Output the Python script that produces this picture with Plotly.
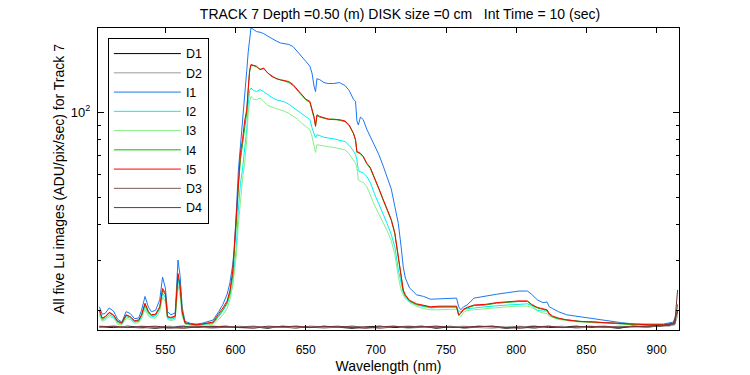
import plotly.graph_objects as go

# Wavelength grid (nm) for the five image series
wl = [503, 505, 507, 510, 513, 516, 519, 522, 525, 528, 531, 533, 535.5, 538, 540, 543, 546, 548, 550, 551.5,
      554, 557, 559, 560.5, 562, 564, 568, 572, 576, 580, 584, 588, 591, 594, 596, 598, 599, 600.5, 602, 603.5,
      605, 606.5, 608, 609, 610, 611, 613, 615, 617.5, 620, 623, 626, 629, 632, 635, 638, 641, 644, 647, 650,
      653, 654.5, 656, 657, 658, 660, 663, 666, 670, 674, 678, 681, 684, 685.5, 686.5, 687.5, 689, 691, 693.5, 696,
      699, 702, 705, 708, 711, 713.5, 716, 718, 719.5, 721, 724, 729, 734, 739, 745, 752, 757.5, 759, 760.5, 762.5,
      765, 770, 778, 786, 794, 802, 808, 811, 815, 819, 822, 823.5, 826, 830, 836, 845, 855, 865, 875, 885,
      895, 905, 912, 915]

I1 = [20.6, 19.4, 19.5, 20.4, 19.9, 18.6, 18.2, 19.8, 19.5, 18.7, 18.8, 20.0, 22.4, 20.5, 19.8, 20.0, 21.8, 26.2, 24.0, 19.8,
      19.3, 19.6, 30.1, 26.5, 20.5, 18.3, 18.0, 17.9, 18.0, 18.2, 18.5, 19.8, 21.0, 22.8, 25.0, 29.0, 32.5, 44, 62, 76,
      92, 110, 140, 162, 185, 198, 195, 192, 191, 189, 185, 181, 178, 175, 174, 173, 170, 163, 156, 151,
      145, 137, 123, 118, 131, 130, 127, 126, 126, 127, 124, 119, 111, 109, 93, 90, 96, 94, 87, 82,
      76, 71, 65, 58.5, 53.5, 46.5, 40.5, 33.5, 28.5, 26, 24, 22.7, 22.4, 21.9, 22.0, 22.1, 22.1, 20.6, 20.1, 20.6,
      20.9, 22.1, 22.5, 22.8, 23.1, 23.4, 23.4, 22.8, 21.8, 21.3, 21.4, 20.6, 20.3, 19.8, 19.3, 19.0, 18.7, 18.4, 18.1, 17.9,
      17.9, 17.9, 18.2, 20.0]

I2 = [19.5, 18.5, 18.7, 19.3, 19.0, 18.1, 17.9, 19.0, 18.8, 18.2, 18.3, 19.0, 20.7, 19.4, 19.0, 19.1, 20.2, 23.0, 22.2, 18.8,
      18.6, 18.8, 25.8, 23.5, 19.4, 18.0, 17.8, 17.7, 17.8, 17.9, 18.0, 19.0, 19.9, 21.0, 22.5, 24.5, 28, 33, 45, 56,
      63, 73, 87, 106, 119, 121.5, 119, 118, 120, 118, 115, 112.5, 110.5, 109.5, 108.5, 106.5, 104, 101.5, 99, 96.5,
      94, 88, 84, 81, 83.2, 82.5, 81.5, 81, 80.5, 79.5, 78.7, 76.2, 73, 70.7, 67.9, 62, 61.5, 61, 59.3, 56.5,
      51.5, 47.5, 44.3, 40.5, 37, 33.5, 27.8, 24.6, 23.1, 22.3, 21.5, 20.9, 20.6, 20.4, 20.5, 20.5, 20.5, 19.9, 19.8, 20.2,
      20.3, 20.4, 20.6, 20.8, 20.9, 21.0, 21.1, 20.8, 20.0, 19.9, 19.9, 19.3, 18.9, 18.7, 18.5, 18.3, 18.2, 18.1, 17.95, 17.8,
      17.8, 17.8, 17.9, 19.5]

I3 = [19.2, 18.3, 18.5, 19.0, 18.8, 17.9, 17.8, 18.7, 18.6, 18.0, 18.1, 18.7, 20.2, 19.1, 18.8, 18.8, 19.8, 22.2, 21.5, 18.6,
      18.4, 18.6, 24.5, 22.5, 19.1, 17.9, 17.7, 17.6, 17.7, 17.8, 17.9, 18.6, 19.3, 20.3, 21.8, 24.5, 27.5, 31, 40, 50,
      58, 66, 80, 98, 109, 113.5, 111, 110.5, 112, 109, 105.5, 104, 103, 102, 100.5, 99, 97, 94.5, 91.5, 89,
      86.6, 82, 76, 72, 76.7, 76.3, 76, 75.5, 75, 74.4, 73.6, 71.2, 68, 66, 63.4, 57.6, 57, 56.5, 54.7, 50.7,
      47, 43.8, 41, 38.2, 35.2, 31.5, 26.3, 23.6, 22.7, 22.0, 21.3, 20.7, 20.3, 20.1, 20.1, 20.2, 20.2, 19.4, 19.0, 19.7,
      20.0, 20.1, 20.3, 20.5, 20.6, 20.7, 20.7, 20.5, 19.9, 19.6, 19.5, 19.1, 18.9, 18.6, 18.4, 18.2, 18.1, 18.0, 17.9, 17.8,
      17.8, 17.8, 17.9, 19.3]

I4 = [19.9, 18.7, 18.9, 19.6, 19.2, 18.3, 18.0, 19.2, 19.0, 18.3, 18.4, 19.2, 21.0, 19.7, 19.2, 19.3, 20.4, 23.6, 22.7, 19.0,
      18.8, 19.0, 26.6, 24.2, 19.7, 18.0, 17.9, 17.8, 17.9, 18.0, 18.1, 19.2, 20.1, 21.3, 23.0, 26.5, 31.0, 40, 54, 68,
      77, 90, 100, 119, 138, 146, 145.5, 144, 141.5, 142, 137.5, 133, 131.5, 129.5, 128.5, 127, 124, 119.5, 115.5, 110.5,
      108, 102, 95, 89.5, 97, 96, 95, 94.2, 94.5, 93.5, 92.5, 89.5, 84, 79.5, 72, 71.8, 71.2, 69.5, 65.7, 63.3,
      58.6, 53.7, 49.2, 45.2, 41.5, 37.2, 30.6, 25.5, 23.4, 22.5, 21.6, 21.0, 20.7, 20.5, 20.6, 20.6, 20.6, 19.2, 19.5, 20.1,
      20.4, 20.8, 20.9, 21.2, 21.4, 21.5, 21.5, 20.9, 20.4, 20.1, 20.0, 19.4, 19.0, 18.7, 18.5, 18.3, 18.2, 18.05, 18.0, 17.8,
      17.8, 17.8, 18.0, 19.7]

I5 = [20.1, 18.8, 19.0, 19.7, 19.3, 18.3, 18.1, 19.3, 19.0, 18.4, 18.5, 19.3, 21.2, 19.8, 19.3, 19.4, 20.6, 23.9, 23.0, 19.0,
      18.9, 19.1, 27.0, 24.5, 19.8, 18.1, 17.9, 17.8, 17.9, 18.0, 18.2, 19.5, 20.4, 21.6, 23.5, 27.5, 32.5, 43, 57, 72,
      80, 93, 102, 122, 140, 147, 146, 145, 141, 143, 137, 134, 131, 130, 129, 128, 125, 120, 115, 111,
      109, 103, 96, 89, 97.8, 96.5, 95.3, 94.5, 94, 94, 93, 90, 84.3, 80, 72.6, 72, 71.6, 69.7, 66, 63.8,
      59, 54, 49.5, 45.5, 41.8, 37.5, 31, 25.8, 23.6, 22.7, 21.7, 21.1, 20.8, 20.6, 20.7, 20.7, 20.7, 19.3, 19.6, 20.2,
      20.5, 20.9, 21.0, 21.3, 21.5, 21.6, 21.6, 21.0, 20.5, 20.2, 20.1, 19.5, 19.1, 18.8, 18.5, 18.3, 18.2, 18.1, 18.0, 17.8,
      17.8, 17.8, 18.0, 19.8]

# Wavelength grid (nm) for the dark series
wl_dark = [503, 513, 523, 533, 543, 553, 563, 573, 583, 593, 603, 613, 623, 633, 643, 653, 663, 673, 683, 693, 703, 713,
           723, 733, 743, 753, 763, 773, 783, 793, 803, 813, 823, 833, 843, 853, 863, 873, 883, 893, 903, 909, 913, 915]

D1 = [17.5, 17.4, 17.6, 17.5, 17.3, 17.5, 17.6, 17.4, 17.5, 17.6, 17.4, 17.5, 17.3, 17.6, 17.5, 17.4, 17.6, 17.5, 17.3, 17.5, 17.6, 17.4,
      17.5, 17.6, 17.3, 17.5, 17.4, 17.6, 17.5, 17.3, 17.5, 17.6, 17.4, 17.5, 17.6, 17.4, 17.5, 17.3, 17.6, 17.5, 17.6, 17.7, 17.9, 20.0]
D2 = [17.4, 17.6, 17.5, 17.3, 17.5, 17.6, 17.4, 17.5, 17.3, 17.5, 17.6, 17.4, 17.5, 17.4, 17.6, 17.5, 17.3, 17.5, 17.6, 17.4, 17.5, 17.6,
      17.3, 17.4, 17.6, 17.5, 17.6, 17.4, 17.3, 17.5, 17.6, 17.4, 17.5, 17.6, 17.3, 17.5, 17.4, 17.6, 17.5, 17.4, 17.7, 17.6, 17.8, 19.2]
D3 = [17.6, 17.5, 17.4, 17.6, 17.5, 17.3, 17.5, 17.6, 17.4, 17.4, 17.5, 17.6, 17.4, 17.5, 17.3, 17.6, 17.5, 17.4, 17.6, 17.5, 17.3, 17.5,
      17.6, 17.5, 17.4, 17.6, 17.3, 17.5, 17.6, 17.4, 17.5, 17.3, 17.6, 17.4, 17.5, 17.6, 17.4, 17.5, 17.6, 17.5, 17.6, 17.8, 17.9, 21.0]
D4 = [17.5, 17.6, 17.4, 17.5, 17.6, 17.4, 17.3, 17.5, 17.6, 17.5, 17.4, 17.3, 17.6, 17.5, 17.6, 17.4, 17.5, 17.6, 17.4, 17.3, 17.5, 17.6,
      17.4, 17.5, 17.6, 17.4, 17.5, 17.5, 17.6, 17.4, 17.3, 17.5, 17.6, 17.4, 17.5, 17.5, 17.6, 17.4, 17.5, 17.6, 17.7, 17.8, 18.1, 23.6]

series = [
    ("D1", wl_dark, D1, "#000000"),
    ("D2", wl_dark, D2, "#9a9a9a"),
    ("I1", wl, I1, "#1a78f0"),
    ("I2", wl, I2, "#00f0f0"),
    ("I3", wl, I3, "#88ee88"),
    ("I4", wl, I4, "#00c000"),
    ("I5", wl, I5, "#ff0000"),
    ("D3", wl_dark, D3, "#7a5858"),
    ("D4", wl_dark, D4, "#7a3030"),
]

fig = go.Figure()
for name, x, y, c in series:
    fig.add_trace(go.Scatter(x=x, y=y, name=name, mode="lines",
                             line=dict(color=c, width=1)))

font = "Liberation Sans, Arial, sans-serif"
fig.update_layout(
    width=750, height=375,
    margin=dict(l=98, r=71, t=28, b=45, autoexpand=False),
    paper_bgcolor="white", plot_bgcolor="white",
    font=dict(family=font, size=12, color="black"),
    title=dict(text="TRACK 7 Depth =0.50 (m) DISK size =0 cm   Int Time = 10 (sec)",
               x=400 / 750, xanchor="center", y=1 - 14 / 375, yanchor="middle",
               font=dict(size=14), automargin=False),
    showlegend=True,
    legend=dict(x=0.017, y=0.967, xanchor="left", yanchor="top",
                bordercolor="black", borderwidth=1, bgcolor="white",
                font=dict(size=12.5), tracegroupgap=0, itemwidth=67),
    xaxis=dict(range=[502, 916], showgrid=False, zeroline=False, automargin=False,
               showline=True, linecolor="black", linewidth=1, mirror="ticks",
               ticks="inside", ticklen=5, tickcolor="black", ticklabelstandoff=9,
               tickvals=[550, 600, 650, 700, 750, 800, 850, 900],
               title=dict(text="Wavelength (nm)", standoff=4)),
    yaxis=dict(type="log", range=[1.232, 2.296], showgrid=False, zeroline=False, automargin=False,
               showline=True, linecolor="black", linewidth=1, mirror="ticks",
               ticks="inside", ticklen=6, tickcolor="black", ticklabelstandoff=4,
               tickvals=[100], ticktext=["10<sup>2</sup>"], tickfont=dict(size=13),
               minor=dict(ticks="inside", ticklen=3, tickcolor="black",
                          tickvals=[20, 30, 40, 50, 60, 70, 80, 90]),
               title=dict(text="All five Lu images (ADU/pix/sec) for Track 7", standoff=2)),
)

fig.write_html("out.html", post_script="document.body.style.margin='0';",
               config={"displayModeBar": False})
